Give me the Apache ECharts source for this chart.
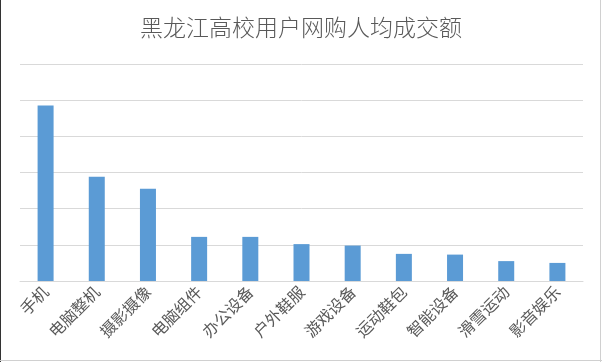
<!DOCTYPE html>
<html>
<head>
<meta charset="utf-8">
<script src="https://cdn.jsdelivr.net/npm/echarts@6/dist/echarts.min.js"></script>
<style>
html,body{margin:0;padding:0;background:#fff;}
#c{width:602px;height:362px;}
</style>
</head>
<body>
<div id="c"></div>
<script>
const titleText = '黑龙江高校用户网购人均成交额';
const categories = ['手机','电脑整机','摄影摄像','电脑组件','办公设备','户外鞋服','游戏设备','运动鞋包','智能设备','滑雪运动','影音娱乐'];
const values = [4.85, 2.88, 2.55, 1.22, 1.22, 1.02, 0.98, 0.75, 0.73, 0.55, 0.50];
const yMax = 6;
const yInterval = 1;

const chart = echarts.init(document.getElementById('c'), null, {renderer:'canvas'});
chart.setOption({
  animation:false,
  backgroundColor:'#fff',
  title:{
    text:titleText,
    left:'center',
    top:11,
    textStyle:{fontFamily:'Noto Sans CJK SC',fontWeight:300,fontSize:23,color:'#595959'}
  },
  grid:{left:20,right:19,top:64,bottom:81,containLabel:false},
  xAxis:{
    type:'category',
    data:categories,
    axisLine:{lineStyle:{color:'#d9d9d9',width:1}},
    axisTick:{show:false},
    axisLabel:{rotate:45,interval:0,margin:8,fontFamily:'Noto Sans CJK SC',fontSize:16,color:'#595959'}
  },
  yAxis:{
    type:'value',
    min:0,max:yMax,interval:yInterval,
    axisLine:{show:false},
    axisTick:{show:false},
    axisLabel:{show:false},
    splitLine:{lineStyle:{color:'#d9d9d9',width:1}}
  },
  series:[{
    type:'bar',
    data:values,
    barWidth:16,
    itemStyle:{color:'#5b9bd5'}
  }],
  graphic:[
    {type:'line',shape:{x1:0.5,y1:0,x2:0.5,y2:362},style:{stroke:'#333',lineWidth:1}},
    {type:'line',shape:{x1:600.5,y1:0,x2:600.5,y2:362},style:{stroke:'#d0d0d0',lineWidth:1}},
    {type:'line',shape:{x1:0,y1:360.5,x2:602,y2:360.5},style:{stroke:'#d0d0d0',lineWidth:1}}
  ]
});
</script>
</body>
</html>
